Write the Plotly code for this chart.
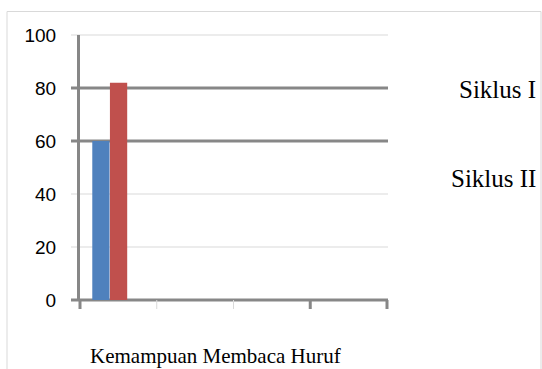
import plotly.graph_objects as go

# Data
category = ["Kemampuan Membaca Huruf"]
series_names = ["Siklus I", "Siklus II"]
series_values = [[60], [82]]
series_colors = ["#4F81BD", "#C0504D"]
y_ticks = [0, 20, 40, 60, 80, 100]
dark_lines = [60, 80]
x_range = [-0.5, 3.5]
x_boundaries = [-0.5, 0.5, 1.5, 2.5, 3.5]
dark_boundaries = [-0.5, 2.5, 3.5]

W, H = 542, 369
L, R, T, B = 80, 155, 35, 69
pw, ph = W - L - R, H - T - B
DARK, LIGHT = "#878787", "#d9d9d9"

fig = go.Figure()
offsets = [-0.34, -0.11]
for name, vals, col, off in zip(series_names, series_values, series_colors, offsets):
    fig.add_trace(go.Bar(x=[0] * len(vals), y=vals, name=name,
                         marker=dict(color=col, line=dict(width=0)),
                         offset=off, width=0.225, showlegend=False))

shapes = []
# horizontal grid lines with their left tick extension
for v in y_ticks:
    dark = v in dark_lines or v == 0
    shapes.append(dict(type="line", xref="paper", yref="paper", x0=-9 / pw, x1=1.0 + 1 / pw,
                       y0=v / 100, y1=v / 100,
                       line=dict(color=DARK if dark else LIGHT, width=3 if dark else 1),
                       layer="below"))
# x tick marks at category boundaries
for bx in x_boundaries:
    dark = bx in dark_boundaries
    px = (bx - x_range[0]) / (x_range[1] - x_range[0])
    shapes.append(dict(type="line", xref="paper", yref="paper", x0=px, x1=px,
                       y0=0, y1=-9 / ph, line=dict(color=DARK if dark else LIGHT, width=3 if dark else 1),
                       layer="below"))
# outer frame
shapes.append(dict(type="rect", xref="paper", yref="paper",
                   x0=(7 - L) / pw, x1=(541 - L) / pw, y0=-1.0, y1=(H - B - 11.5) / ph,
                   line=dict(color=LIGHT, width=1), fillcolor="rgba(0,0,0,0)", layer="below"))

annotations = []
legend_y = [90, 178]
for name, yy in zip(series_names, legend_y):
    annotations.append(dict(text=name, xref="paper", yref="paper",
                            x=(538 - L) / pw, y=(H - B - yy) / ph, xanchor="right", yanchor="middle",
                            showarrow=False, font=dict(family="Liberation Serif", size=25, color="#000")))
annotations.append(dict(text=category[0], xref="paper", yref="paper",
                        x=(215 - L) / pw, y=-(356 - (H - B)) / ph, xanchor="center", yanchor="middle",
                        showarrow=False, font=dict(family="Liberation Serif", size=21, color="#000")))

fig.update_layout(
    width=W, height=H, margin=dict(l=L, r=R, t=T, b=B),
    paper_bgcolor="white", plot_bgcolor="white",
    barmode="overlay", shapes=shapes, annotations=annotations,
    xaxis=dict(range=x_range, showgrid=False, zeroline=False, showticklabels=False,
               showline=False, ticks=""),
    yaxis=dict(range=[0, 100], tickmode="array", tickvals=y_ticks, ticks="",
               showgrid=False, zeroline=False, showline=True, linecolor=DARK, linewidth=3,
               ticklabelstandoff=17,
               tickfont=dict(family="Liberation Sans", size=19, color="#000")),
)

fig.write_html("out.html")
